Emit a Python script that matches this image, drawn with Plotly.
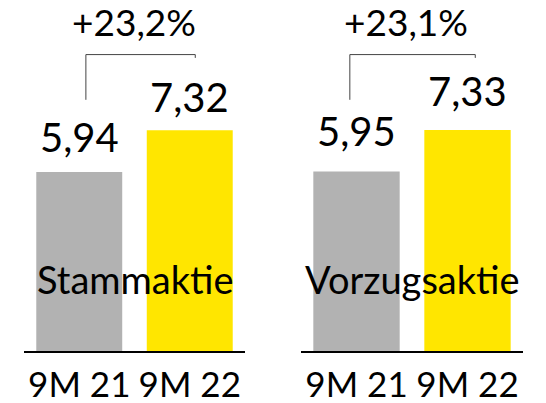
import plotly.graph_objects as go

PERIODS = ["9M 21", "9M 22"]
GROUPS = ["Stammaktie", "Vorzugsaktie"]
VALUES = {
    "Stammaktie": [5.94, 7.32],
    "Vorzugsaktie": [5.95, 7.33],
}
VALUE_LABELS = {
    "Stammaktie": ["5,94", "7,32"],
    "Vorzugsaktie": ["5,95", "7,33"],
}
CHANGE_LABELS = {"Stammaktie": "+23,2%", "Vorzugsaktie": "+23,1%"}

BAR_COLORS = ["#b2b2b2", "#ffe600"]
FONT = "Lato"

fig = go.Figure()

axes = [("x", "y", "xaxis", [24 / 546, 245 / 546]), ("x2", "y2", "xaxis2", [301 / 546, 523 / 546])]
label_shift = {"Stammaktie": 7, "Vorzugsaktie": 13}
bracket_x = {"Stammaktie": (0.06, 1.05), "Vorzugsaktie": (-0.06, 1.07)}

for group, (xr, yr, axname, dom) in zip(GROUPS, axes):
    vals = VALUES[group]
    fig.add_trace(go.Bar(
        x=PERIODS, y=vals, xaxis=xr, yaxis=yr,
        marker=dict(color=BAR_COLORS, line=dict(width=0)),
        showlegend=False, hoverinfo="skip",
    ))
    # value labels
    for i, (v, lab) in enumerate(zip(vals, VALUE_LABELS[group])):
        fig.add_annotation(
            x=i, y=v, xref=xr, yref=yr, text=lab, showarrow=False,
            yanchor="bottom", yshift=2 + label_shift[group] - (2 if i else 0),
            font=dict(family=FONT, size=40, color="#000000"),
        )
    # bracket
    x0, x1 = bracket_x[group]
    top = 9.83
    fig.add_shape(type="line", xref=xr, yref=yr, x0=x0, x1=x0, y0=8.33, y1=top,
                  line=dict(color="#444444", width=1))
    fig.add_shape(type="line", xref=xr, yref=yr, x0=x0, x1=x1, y0=top, y1=top,
                  line=dict(color="#444444", width=1))
    fig.add_shape(type="line", xref=xr, yref=yr, x0=x1, x1=x1, y0=top, y1=9.72,
                  line=dict(color="#444444", width=1))
    fig.add_annotation(
        x=(x0 + x1) / 2 - 0.06, y=10.81, xref=xr, yref=yr, text=CHANGE_LABELS[group],
        showarrow=False, yanchor="middle", yshift=4,
        font=dict(family=FONT, size=37, color="#000000"),
    )
    fig.add_annotation(
        x=0.5, y=2.3, xref=xr, yref=yr, text=group, showarrow=False,
        yanchor="middle", yshift=3,
        font=dict(family=FONT, size=38, color="#000000"),
    )

axis_style = dict(
    type="category", showline=True, linecolor="#000000", linewidth=1.5,
    showgrid=False, zeroline=False, ticks="", automargin=False, tickangle=0,
    tickfont=dict(family=FONT, size=35, color="#000000"),
    ticklabelstandoff=2,
    fixedrange=True,
)
yaxis_style = dict(range=[0, 11.64], visible=False, automargin=False, fixedrange=True)

fig.update_layout(
    width=546, height=403,
    margin=dict(l=0, r=0, t=0, b=52),
    paper_bgcolor="white", plot_bgcolor="white",
    bargap=0.222,
    xaxis=dict(domain=axes[0][3], anchor="y", **axis_style),
    xaxis2=dict(domain=axes[1][3], anchor="y2", **axis_style),
    yaxis=dict(anchor="x", **yaxis_style),
    yaxis2=dict(anchor="x2", **yaxis_style),
)

fig.write_html(
    "out.html",
    config={"displayModeBar": False},
    post_script="document.body.style.margin='0';document.body.style.overflow='hidden';",
)
